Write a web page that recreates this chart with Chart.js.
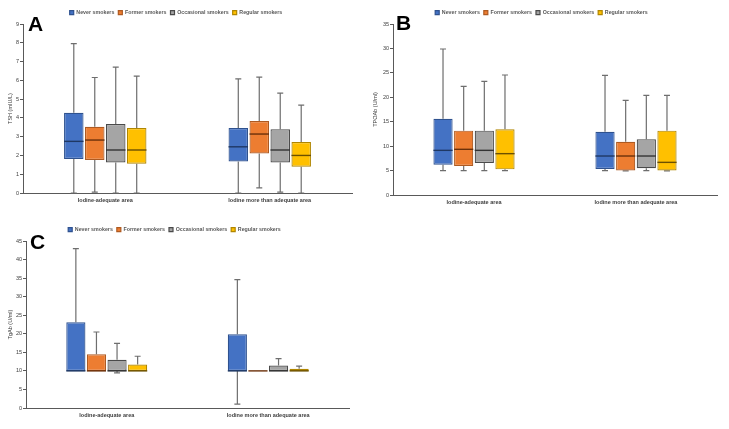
<!DOCTYPE html>
<html><head><meta charset="utf-8">
<script src="https://cdn.jsdelivr.net/npm/chart.js@4"></script>
<style>
body{margin:0;background:#fff;width:729px;height:429px;overflow:hidden;position:relative;font-family:"Liberation Sans",Arial,sans-serif}
.p{position:absolute}
.lbl{position:absolute;font-weight:bold;font-size:21px;line-height:21px;color:#000;font-family:"Liberation Sans",Arial,sans-serif}
</style></head><body>
<div class="p" style="left:0;top:0;width:362px;height:210px"><canvas id="ca"></canvas></div>
<div class="p" style="left:366px;top:0;width:362px;height:210px"><canvas id="cb"></canvas></div>
<div class="p" style="left:0;top:212px;width:362px;height:217px"><canvas id="cc"></canvas></div>
<div class="lbl" style="left:28px;top:13px">A</div>
<div class="lbl" style="left:396px;top:12px">B</div>
<div class="lbl" style="left:30px;top:231px">C</div>
<script>
const categories = ['Iodine-adequate area', 'Iodine more than adequate area'];
const seriesNames = ['Never smokers', 'Former smokers', 'Occasional smokers', 'Regular smokers'];

// each entry: [min, Q1, median, Q3, max] for each category
const tshNever      = [[0, 1.81, 2.75, 4.27, 7.95], [0, 1.68, 2.46, 3.46, 6.08]];
const tshFormer     = [[0.05, 1.76, 2.82, 3.53, 6.15], [0.27, 2.11, 3.14, 3.83, 6.17]];
const tshOccasional = [[0, 1.63, 2.29, 3.67, 6.70], [0.05, 1.63, 2.29, 3.39, 5.32]];
const tshRegular    = [[0, 1.56, 2.29, 3.46, 6.22], [0, 1.40, 2.00, 2.71, 4.68]];

const tpoNever      = [[5, 6.21, 9.14, 15.62, 29.88], [5, 5.32, 7.98, 12.96, 24.5]];
const tpoFormer     = [[5, 5.93, 9.35, 13.17, 22.24], [4.95, 5.0, 7.98, 10.91, 19.37]];
const tpoOccasional = [[5, 6.55, 9.14, 13.17, 23.26], [5, 5.46, 7.98, 11.39, 20.4]];
const tpoRegular    = [[5, 5.25, 8.46, 13.44, 24.56], [4.95, 5.0, 6.68, 13.17, 20.4]];

const tgNever       = [[10, 10, 10, 23.08, 42.93], [1.07, 10, 10, 19.86, 34.6]];
const tgFormer      = [[10, 10, 10, 14.49, 20.48], [10, 10, 10, 10, 10]];
const tgOccasional  = [[9.48, 10, 10, 12.97, 17.44], [10, 10, 10, 11.45, 13.33]];
const tgRegular     = [[10, 10, 10, 11.72, 13.95], [10, 10, 10, 10.55, 11.27]];

const yTitles = ['TSH (mIU/L)', 'TPOAb (U/ml)', 'TgAb (U/ml)'];
const yMax = [9, 35, 45];
const yStep = [1, 5, 5];

const fills   = ['#4472C4', '#ED7D31', '#A5A5A5', '#FFC000'];
const borders = ['#2F528F', '#AE5A21', '#4a4a4a', '#B08600'];
const medians = ['#1F3864', '#6b300a', '#333333', '#6b5000'];
const whiskerColor = '#6e6e6e';

const whiskerPlugin = {
  id: 'boxWhiskers',
  beforeDatasetsDraw(chart) {
    const ctx = chart.ctx, y = chart.scales.y;
    chart.data.datasets.forEach((ds, di) => {
      chart.getDatasetMeta(di).data.forEach((bar, i) => {
        const s = ds.stats[i];
        const x = bar.x, cap = 3;
        const pMin = y.getPixelForValue(s[0]), pQ1 = y.getPixelForValue(s[1]);
        const pQ3 = y.getPixelForValue(s[3]), pMax = y.getPixelForValue(s[4]);
        ctx.save();
        ctx.strokeStyle = whiskerColor; ctx.lineWidth = 1.2;
        ctx.beginPath();
        if (s[4] > s[3]) {
          ctx.moveTo(x, pQ3); ctx.lineTo(x, pMax);
          ctx.moveTo(x - cap, pMax); ctx.lineTo(x + cap, pMax);
        }
        if (s[0] < s[1]) {
          ctx.moveTo(x, pQ1); ctx.lineTo(x, pMin);
          ctx.moveTo(x - cap, pMin); ctx.lineTo(x + cap, pMin);
        }
        ctx.stroke();
        ctx.restore();
      });
    });
  },
  afterDatasetsDraw(chart) {
    const ctx = chart.ctx, y = chart.scales.y;
    chart.data.datasets.forEach((ds, di) => {
      chart.getDatasetMeta(di).data.forEach((bar, i) => {
        const s = ds.stats[i];
        const hw = bar.width / 2;
        const pMed = y.getPixelForValue(s[2]);
        ctx.save();
        ctx.strokeStyle = medians[di]; ctx.lineWidth = 1.4;
        ctx.beginPath();
        ctx.moveTo(bar.x - hw, pMed); ctx.lineTo(bar.x + hw, pMed);
        ctx.stroke();
        ctx.restore();
      });
    });
  }
};

function legendFitPlugin(h) {
  return {
    id: 'legendFit',
    beforeLayout(chart) {
      const lg = chart.legend;
      if (lg && !lg._patched) {
        const f = lg.fit;
        lg.fit = function () { f.call(this); this.height = h; };
        lg._patched = true;
      }
    }
  };
}

function makeChart(id, seriesStats, idx, geo) {
  const datasets = seriesStats.map((stats, si) => ({
    label: seriesNames[si],
    data: stats.map(s => [s[1], s[3]]),
    stats: stats,
    backgroundColor: fills[si],
    borderColor: borders[si],
    borderWidth: 1.2,
    borderSkipped: false,
    categoryPercentage: 0.51,
    barPercentage: 0.93
  }));
  return new Chart(document.getElementById(id), {
    type: 'bar',
    data: { labels: categories, datasets },
    options: {
      responsive: true,
      maintainAspectRatio: false,
      animation: false,
      layout: { padding: { top: geo.padTop, right: geo.padRight, left: 0, bottom: 0 } },
      plugins: {
        legend: {
          position: 'top',
          labels: {
            boxWidth: 4, boxHeight: 4, padding: 4,
            color: '#595959',
            font: { family: 'Liberation Sans, Arial, sans-serif', size: 5.3, weight: 'bold' }
          }
        },
        tooltip: { enabled: false }
      },
      scales: {
        x: {
          grid: { display: false, drawTicks: false, tickLength: 0 },
          border: { color: '#595959', width: 1 },
          ticks: {
            padding: 4, color: '#404040',
            font: { family: 'Liberation Sans, Arial, sans-serif', size: 5.5, weight: 'bold' }
          },
          afterFit(s) { s.height = geo.xH; }
        },
        y: {
          min: 0, max: yMax[idx],
          grid: { display: true, drawOnChartArea: false, drawTicks: true, tickLength: 3, color: '#595959' },
          border: { color: '#595959', width: 1 },
          ticks: {
            stepSize: yStep[idx], padding: 1, color: '#404040',
            font: { family: 'Liberation Sans, Arial, sans-serif', size: 5.5 }
          },
          title: {
            display: true, text: yTitles[idx], color: '#404040',
            padding: { top: geo.titlePad, bottom: 0 },
            font: { family: 'Liberation Sans, Arial, sans-serif', size: 5.5 }
          },
          afterFit(s) { s.width = geo.yW; }
        }
      }
    },
    plugins: [whiskerPlugin, legendFitPlugin(geo.legH)]
  });
}

makeChart('ca', [tshNever, tshFormer, tshOccasional, tshRegular], 0,
  { padTop: 6, legH: 18, padRight: 10, xH: 17, yW: 23, titlePad: 7 });
makeChart('cb', [tpoNever, tpoFormer, tpoOccasional, tpoRegular], 1,
  { padTop: 6, legH: 18, padRight: 11, xH: 15, yW: 27, titlePad: 6.5 });
makeChart('cc', [tgNever, tgFormer, tgOccasional, tgRegular], 2,
  { padTop: 11, legH: 18, padRight: 13, xH: 21, yW: 26, titlePad: 7.5 });
</script>
</body></html>
